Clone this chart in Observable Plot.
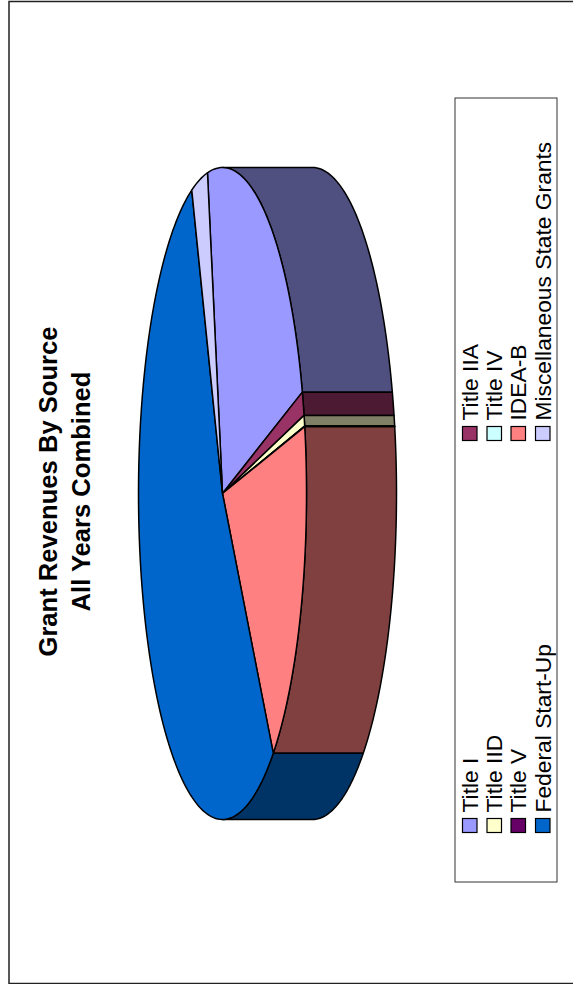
<!DOCTYPE html>
<html>
<head>
<meta charset="utf-8">
<script src="https://cdn.jsdelivr.net/npm/d3@7"></script>
<script src="https://cdn.jsdelivr.net/npm/@observablehq/plot@0.6"></script>
<style>
html,body{margin:0;padding:0;background:#fff;overflow:hidden}
svg{display:block}
</style>
</head>
<body>
<script>
const sources = ["Title I","Title IIA","Title IID","Title IV","Title V","IDEA-B","Federal Start-Up","Miscellaneous State Grants"];
const shares = [22.83,1.18,0.53,0.02,0.02,17.95,54.37,3.1];
const topColors = ["#9999FF","#993366","#FFFFCC","#CCFFFF","#660066","#FF8080","#0066CC","#CCCCFF"];
const wallColors = ["#4F4F80","#4D1A33","#808066","#668080","#330033","#804040","#003366","#666680"];
const legendOrder = ["Title I","Title IID","Title V","Federal Start-Up","Title IIA","Title IV","IDEA-B","Miscellaneous State Grants"];
const titleLines = ["Grant Revenues By Source","All Years Combined"];

const W = 573, H = 984, FONT = "'Liberation Sans', Arial, sans-serif";
// pie geometry on the page, the whole chart is turned a quarter turn
const cx = 222, cy = 493, rx = 84, ry = 326, depth = 90;
const firstAngle = -10.3;
const U = px => (px - cx) / rx;
const V = px => (px - cy) / ry;

const total = d3.sum(shares);
let running = firstAngle;
const slices = sources.map((name, i) => {
  const a0 = running;
  running += shares[i] / total * 360;
  return {name, a0, a1: running, top: topColors[i], wall: wallColors[i]};
});
const arc = (a0, a1) => {
  const n = Math.max(1, Math.ceil((a1 - a0) / 1.5));
  return d3.range(n + 1).map(k => {
    const a = (a0 + (a1 - a0) * k / n) * Math.PI / 180;
    return {u: Math.sin(a), v: -Math.cos(a)};
  });
};
const wallPts = [], topPts = [];
for (const s of slices) {
  const lo = Math.max(s.a0, 0), hi = Math.min(s.a1, 180);
  if (hi > lo) {
    const a = arc(lo, hi), d = depth / rx;
    const ring = [...a, ...a.slice().reverse().map(p => ({u: p.u + d, v: p.v}))];
    ring.push(ring[0]);
    ring.forEach(p => wallPts.push({...p, part: s.name, color: s.wall}));
  }
  const ring = [{u: 0, v: 0}, ...arc(s.a0, s.a1), {u: 0, v: 0}];
  ring.forEach(p => topPts.push({...p, part: s.name, color: s.top}));
}

const colorOf = Object.fromEntries(sources.map((s, i) => [s, topColors[i]]));
const rowX = [470, 494.5, 518.5, 543];
const legendRows = legendOrder.map((name, i) => {
  const col = Math.floor(i / 4), row = i % 4;
  const swY = col === 0 ? 825.5 : 433.5;
  const txY = col === 0 ? 812 : 420;
  return {name, x: rowX[row], swY, txY, color: colorOf[name]};
});

const line = (data) => Plot.line(data, {
  x: "u", y: "v", z: "part", fill: "color", stroke: "#000",
  strokeWidth: 1.5, strokeLinejoin: "round", curve: "linear"
});

const chart = Plot.plot({
  width: W, height: H,
  margin: 0,
  style: {background: "#fff", fontFamily: FONT},
  x: {axis: null, domain: [U(0), U(W)], range: [0, W]},
  y: {axis: null, domain: [V(0), V(H)], range: [0, H]},
  color: {type: "identity"},
  marks: [
    // outer chart frame
    Plot.rect([0], {x1: U(9), x2: U(W + 20), y1: V(1.5), y2: V(H - 0.5), fill: "none", stroke: "#222", strokeWidth: 1.5}),
    // pie
    line(wallPts),
    line(topPts),
    // title
    Plot.text(titleLines, {
      x: (d, i) => U(i === 0 ? 48 : 81), y: V(491), text: d => d, rotate: -90,
      fontSize: 25.6, fontWeight: "bold", fill: "#000", fontFamily: FONT
    }),
    // legend
    Plot.rect([0], {x1: U(455), x2: U(557), y1: V(98), y2: V(882), fill: "none", stroke: "#333", strokeWidth: 1}),
    Plot.rect(legendRows, {
      x1: d => U(d.x - 7.5), x2: d => U(d.x + 7), y1: d => V(d.swY - 7), y2: d => V(d.swY + 7),
      fill: "color", stroke: "#000", strokeWidth: 1.2
    }),
    Plot.text(legendRows, {
      x: d => U(d.x), y: d => V(d.txY), text: "name", rotate: -90, textAnchor: "start",
      fontSize: 22.8, fill: "#000", fontFamily: FONT
    })
  ]
});
document.body.appendChild(chart);
</script>
</body>
</html>
